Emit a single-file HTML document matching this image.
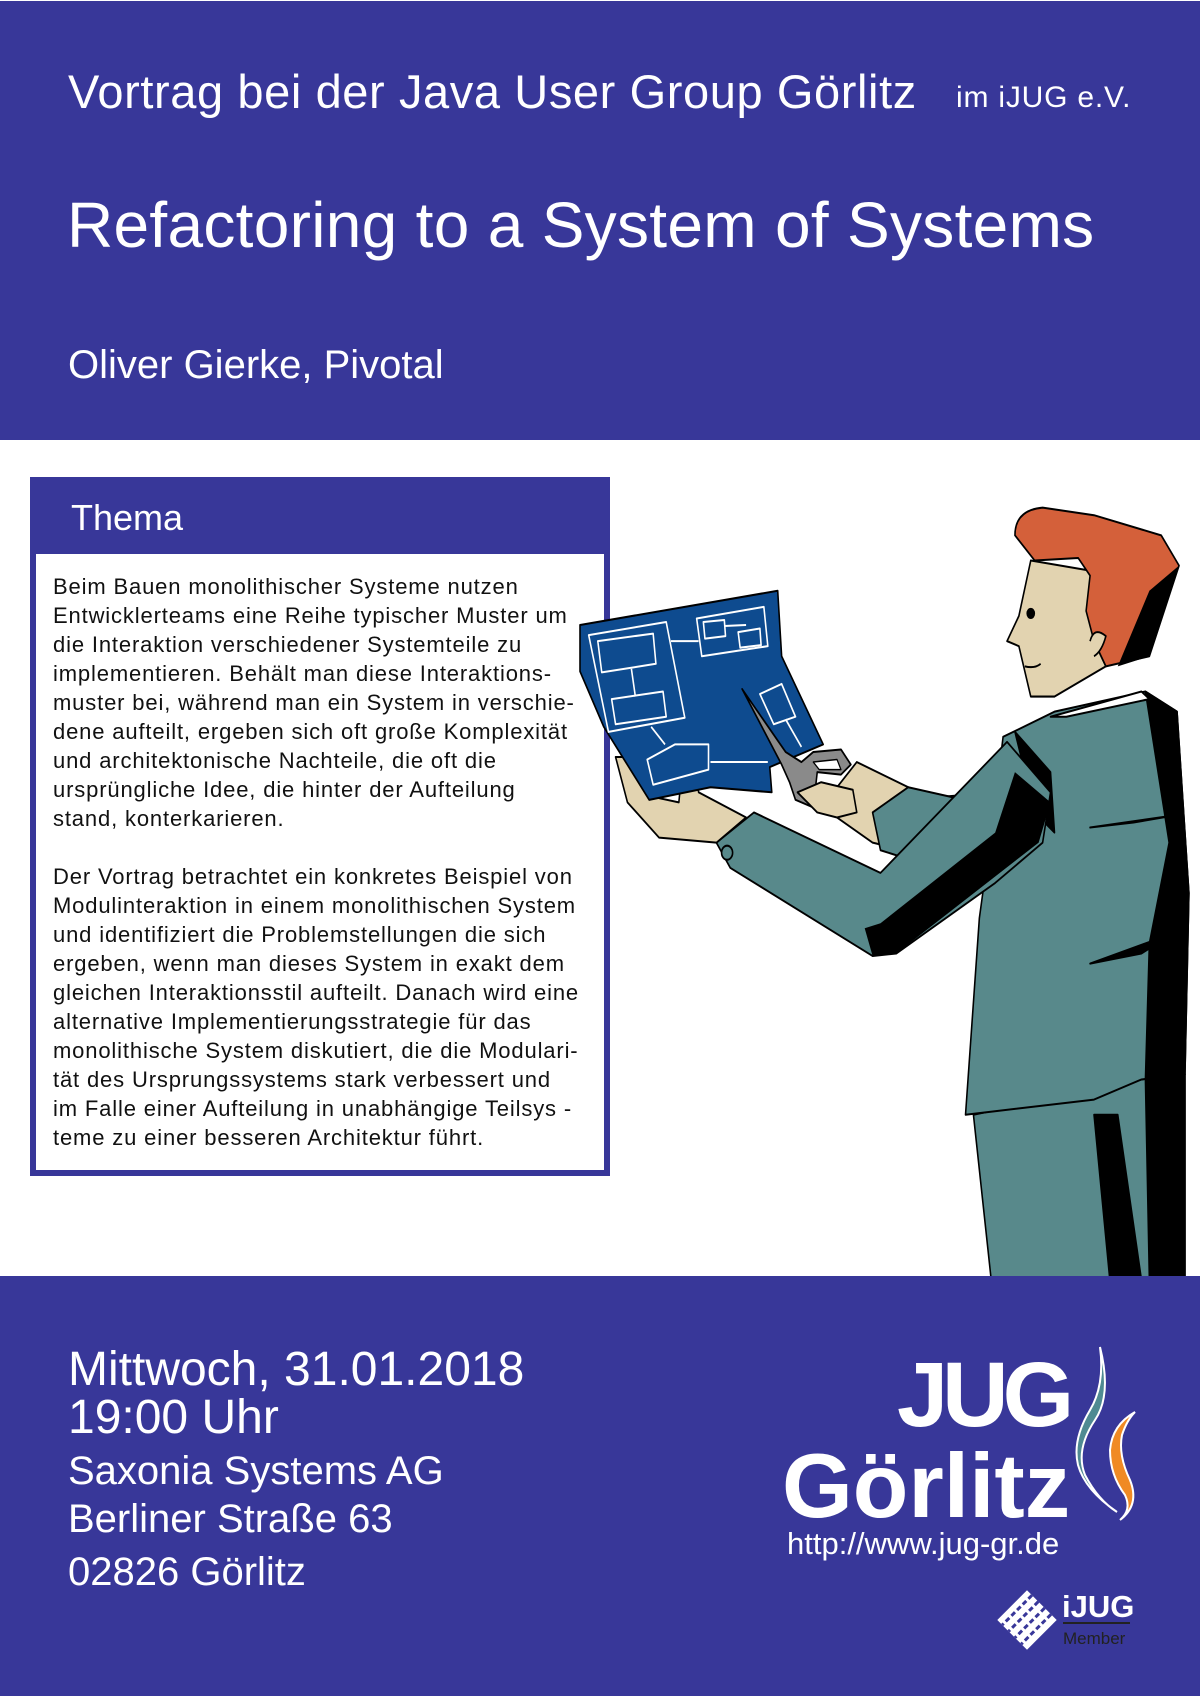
<!DOCTYPE html>
<html><head><meta charset="utf-8"><style>
*{margin:0;padding:0}
body{width:1200px;height:1697px;position:relative;background:#fff;font-family:"Liberation Sans",Arial,sans-serif;overflow:hidden}
.band{position:absolute;left:0;width:1200px;background:#383799}
.t{position:absolute;color:#fff;white-space:nowrap;line-height:1}
.body{position:absolute;left:53px;top:572px;font-size:22px;letter-spacing:0.85px;line-height:29px;color:#111;white-space:nowrap}
</style></head><body>
<div class="band" style="top:1px;height:439px"></div>
<div class="t" style="left:68px;top:68px;font-size:47px;letter-spacing:0.6px">Vortrag bei der Java User Group Görlitz</div>
<div class="t" style="left:956px;top:83px;font-size:30px;letter-spacing:0.8px">im iJUG e.V.</div>
<div class="t" style="left:67px;top:193px;font-size:64px;letter-spacing:0.3px">Refactoring to a System of Systems</div>
<div class="t" style="left:68px;top:345px;font-size:40px">Oliver Gierke, Pivotal</div>

<div style="position:absolute;left:30px;top:477px;width:580px;height:78px;background:#383799"></div>
<div class="t" style="left:71px;top:500px;font-size:36px">Thema</div>
<div style="position:absolute;left:30px;top:554px;width:568px;height:616px;border:6px solid #383799;border-top:none;background:#fff"></div>
<div class="body">Beim Bauen monolithischer Systeme nutzen<br>Entwicklerteams eine Reihe typischer Muster um<br>die Interaktion verschiedener Systemteile zu<br>implementieren. Behält man diese Interaktions-<br>muster bei, während man ein System in verschie-<br>dene aufteilt, ergeben sich oft große Komplexität<br>und architektonische Nachteile, die oft die<br>ursprüngliche Idee, die hinter der Aufteilung<br>stand, konterkarieren.<br><br>Der Vortrag betrachtet ein konkretes Beispiel von<br>Modulinteraktion in einem monolithischen System<br>und identifiziert die Problemstellungen die sich<br>ergeben, wenn man dieses System in exakt dem<br>gleichen Interaktionsstil aufteilt. Danach wird eine<br>alternative Implementierungsstrategie für das<br>monolithische System diskutiert, die die Modulari-<br>tät des Ursprungssystems stark verbessert und<br>im Falle einer Aufteilung in unabhängige Teilsys -<br>teme zu einer besseren Architektur führt.</div>

<svg style="position:absolute;left:0;top:0" width="1200" height="1697">
<g transform="translate(580,490) scale(0.3954,0.5038)" stroke="#000" stroke-width="4" stroke-linejoin="round">
<path d="M995,1240 L1040,1568 L1530,1568 L1530,1160 L1420,1170 Z" fill="#58898b"/>
<path d="M1300,1240 L1340,1568 L1420,1568 L1360,1240 Z" fill="#000"/>
<path d="M1430,1170 L1440,1568 L1530,1568 L1530,1160 Z" fill="#000"/>
<path d="M1070,490 L1200,440 L1430,400 L1510,440 L1540,800 L1530,1160 L1420,1170 L1300,1210 L975,1240 L1010,850 L1050,620 Z" fill="#58898b"/>
<path d="M1430,400 L1510,440 L1540,800 L1530,1160 L1430,1170 L1440,900 L1490,700 Z" fill="#000"/>
<path d="M1100,480 L1190,560 L1200,680 L1150,640 Z" fill="#000"/>
<path d="M1290,670 L1510,645 L1400,660 Z" fill="#000"/>
<path d="M1290,940 L1500,880 L1420,920 Z" fill="#000"/>
<path d="M1190,450 L1420,400 L1440,415 L1230,450 Z" fill="#fff"/>
<path d="M640,600 L700,540 L830,590 L900,610 L1050,600 L1000,720 L820,715 L740,700 L650,650 Z" fill="#e2d3b0"/>
<path d="M740,640 L830,590 L1000,620 L1080,600 L1060,760 L860,740 L760,715 Z" fill="#58898b"/>
<path d="M345,700 L440,640 L760,760 L1080,500 L1190,600 L1170,700 L1050,780 L800,920 L740,925 L380,750 Z" fill="#58898b"/>
<path d="M1100,560 L1190,620 L1160,700 L800,920 L740,925 L720,870 L760,860 L1050,680 Z" fill="#000" stroke="none"/>
<circle cx="372" cy="720" r="14" fill="#58898b"/>
<path d="M90,530 L150,530 L190,610 L250,620 L260,540 L290,545 L300,600 L420,650 L345,700 L200,690 L120,620 Z" fill="#e2d3b0"/>
<path d="M0,268 L500,200 L510,330 L615,505 L480,550 L485,600 L330,590 L175,615 L60,470 L0,360 Z" fill="#0e4b8f"/>
<g fill="none" stroke="#fff" stroke-width="4">
<path d="M22,288 L218,262 L265,452 L72,480 Z"/><path d="M45,300 L185,285 L192,345 L55,362 Z"/>
<path d="M80,415 L210,400 L218,450 L90,465 Z"/><path d="M130,355 L140,410"/>
<path d="M295,255 L465,232 L475,310 L308,330 Z"/><path d="M312,262 L365,258 L368,290 L316,295 Z"/>
<path d="M400,282 L455,275 L458,308 L405,313 Z"/><path d="M365,270 L420,268"/><path d="M230,300 L300,300"/>
<path d="M455,405 L510,385 L545,450 L490,465 Z"/><path d="M520,455 L560,510"/>
<path d="M170,535 L240,505 L325,505 L325,555 L185,585 Z"/><path d="M180,470 L215,505"/><path d="M330,540 L475,540"/>
</g>
<path d="M410,395 L520,520 L560,540 L590,520 L660,515 L685,545 L660,565 L600,560 L590,630 L545,615 L530,580 L510,545 Z" fill="#8a8a8a"/>
<path d="M590,540 L650,535 L660,555 L605,555 Z" fill="#fff" stroke-width="3"/>
<path d="M550,600 L610,580 L690,595 L700,640 L650,650 L600,640 Z" fill="#e2d3b0"/>
<path d="M1140,140 L1290,160 L1300,300 L1330,350 L1200,410 L1140,410 L1110,310 L1080,300 L1110,250 Z" fill="#e2d3b0"/>
<path d="M1100,90 Q1100,40 1170,35 L1300,50 L1470,90 L1515,150 L1440,330 L1330,350 L1300,300 L1280,240 L1290,170 L1260,135 L1150,140 Z" fill="#d4603a"/>
<path d="M1440,200 L1515,150 L1440,330 L1360,350 Z" fill="#000" stroke="none"/>
<circle cx="1140" cy="245" r="9" fill="#000"/>
<path d="M1125,350 Q1150,355 1165,345" fill="none"/>
<path d="M1290,300 Q1300,270 1330,290 Q1320,320 1300,330" fill="#e2d3b0"/>
</g>
</svg>

<div class="band" style="top:1276px;height:420px"></div>
<div class="t" style="left:68px;top:1346px;font-size:48px">Mittwoch, 31.01.2018</div>
<div class="t" style="left:68px;top:1394px;font-size:48px">19:00 Uhr</div>
<div class="t" style="left:68px;top:1451px;font-size:40px">Saxonia Systems AG</div>
<div class="t" style="left:68px;top:1499px;font-size:40px">Berliner Straße 63</div>
<div class="t" style="left:68px;top:1552px;font-size:40px">02826 Görlitz</div>
<div class="t" style="left:897px;top:1349px;font-size:92px;font-weight:bold;letter-spacing:-6px">JUG</div>
<div class="t" style="left:782px;top:1441px;font-size:91px;font-weight:bold;letter-spacing:0px">Görlitz</div>
<div class="t" style="left:787px;top:1528px;font-size:31px">http://www.jug-gr.de</div>
<div class="t" style="left:1062px;top:1591px;font-size:31px;font-weight:bold">iJUG</div>
<div class="t" style="left:1063px;top:1630px;font-size:17px;color:#222">Member</div>
<svg style="position:absolute;left:0;top:0" width="1200" height="1697">
<path d="M1100,1347 Q1112,1395 1095,1420 Q1075,1450 1085,1475 Q1098,1500 1117,1512 Q1085,1490 1078,1465 Q1072,1440 1090,1410 Q1105,1385 1100,1347 Z" fill="#4f8a92" stroke="#fff" stroke-width="2"/>
<path d="M1135,1412 Q1112,1425 1110,1450 Q1110,1475 1125,1495 Q1132,1510 1120,1520 Q1140,1505 1130,1480 Q1118,1455 1122,1435 Q1127,1420 1135,1412 Z" fill="#f08a24" stroke="#fff" stroke-width="2"/>
<g transform="translate(1027,1620) rotate(45)">
<rect x="-21" y="-21" width="42" height="42" fill="#fff"/>
<g stroke="#383799" stroke-width="3" stroke-dasharray="5 3">
<line x1="-14" y1="-21" x2="-14" y2="21"/><line x1="-5" y1="-21" x2="-5" y2="21"/><line x1="4" y1="-21" x2="4" y2="21"/><line x1="13" y1="-21" x2="13" y2="21"/>
</g></g>
<line x1="1063" y1="1623" x2="1130" y2="1623" stroke="#222" stroke-width="2"/>
</svg>
</body></html>
